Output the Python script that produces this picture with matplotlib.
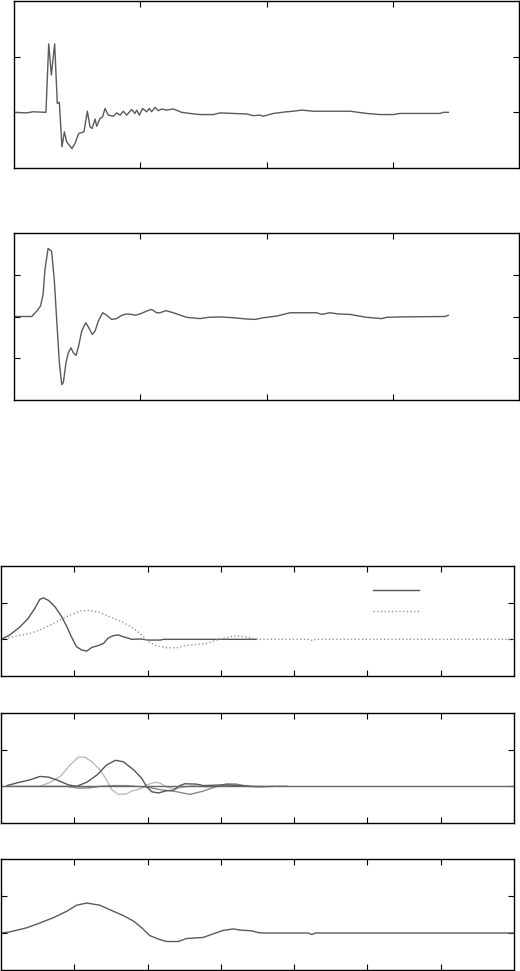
import matplotlib
matplotlib.use("Agg")
import matplotlib.pyplot as plt

# --- panel 1: raw response (x in 0..4) ---
p1_x = [0, 0.10, 0.15, 0.253, 0.275, 0.296, 0.322, 0.343, 0.359, 0.380, 0.399, 0.417,
        0.459, 0.483, 0.512, 0.554, 0.581, 0.602, 0.618, 0.642, 0.655, 0.681, 0.702,
        0.721, 0.747, 0.787, 0.813, 0.840, 0.866, 0.892, 0.932, 0.958, 0.972, 0.993,
        1.019, 1.051, 1.072, 1.090, 1.117, 1.143, 1.170, 1.209, 1.262, 1.328, 1.394,
        1.473, 1.579, 1.632, 1.737, 1.843, 1.896, 1.949, 1.975, 2.054, 2.160, 2.213,
        2.279, 2.371, 2.661, 2.793, 2.899, 3.005, 3.057, 3.374, 3.401, 3.440]
p1_y = [0, -0.01, 0.01, 0, 1.23, 0.67, 1.23, 0.16, 0.18, -0.62, -0.35, -0.53,
        -0.65, -0.56, -0.38, -0.35, 0.02, -0.26, -0.29, -0.12, -0.25, -0.11, -0.08,
        0.07, -0.05, -0.07, -0.01, -0.05, 0.02, -0.05, 0.05, -0.02, 0.04, -0.05,
        0.07, 0.01, 0.07, 0.01, 0.09, 0.03, 0.06, 0.04, 0.06, 0.00, -0.02,
        -0.04, -0.04, -0.01, -0.02, -0.03, -0.06, -0.05, -0.07, -0.02, 0.01, 0.02,
        0.04, 0.02, 0.02, -0.02, -0.04, -0.04, -0.02, -0.02, 0, 0]

# --- panel 2: smoothed response (x in 0..4) ---
p2_x = [0, 0.14, 0.18, 0.21, 0.23, 0.245, 0.27, 0.298, 0.319, 0.338, 0.359, 0.378,
        0.391, 0.412, 0.430, 0.451, 0.470, 0.491, 0.512, 0.536, 0.568, 0.589, 0.620,
        0.642, 0.668, 0.702, 0.734, 0.774, 0.813, 0.853, 0.892, 0.932, 0.958, 0.998,
        1.051, 1.090, 1.130, 1.156, 1.204, 1.262, 1.328, 1.368, 1.473, 1.539, 1.632,
        1.737, 1.843, 1.909, 1.975, 2.081, 2.186, 2.398, 2.437, 2.503, 2.569, 2.661,
        2.793, 2.912, 2.952, 3.057, 3.414, 3.440]
p2_y = [0, 0, 0.13, 0.25, 0.52, 1.12, 1.63, 1.56, 0.88, -0.07, -1.10, -1.63,
        -1.58, -1.10, -0.87, -0.75, -0.87, -0.93, -0.71, -0.35, -0.15, -0.25, -0.43,
        -0.35, -0.11, 0.09, 0.03, -0.07, -0.05, 0.03, 0.06, 0.05, 0.03, 0.06,
        0.13, 0.17, 0.09, 0.09, 0.14, 0.09, 0.02, -0.02, -0.05, -0.02, -0.01,
        -0.03, -0.06, -0.07, -0.03, 0.01, 0.09, 0.09, 0.05, 0.09, 0.06, 0.05,
        -0.02, -0.05, -0.02, -0.01, 0, 0.03]

# --- panel 3: two components (x in 0..7) ---
p3a_x = [0, 0.12, 0.26, 0.37, 0.46, 0.53, 0.58, 0.65, 0.74, 0.83, 0.90, 0.96, 1.03,
         1.10, 1.17, 1.24, 1.33, 1.40, 1.46, 1.53, 1.60, 1.67, 1.74, 1.78, 1.90,
         2.01, 2.17, 2.22, 3.49]
p3a_y = [0, 0.12, 0.34, 0.57, 0.84, 1.09, 1.13, 1.06, 0.88, 0.61, 0.34, 0.07, -0.20,
         -0.29, -0.32, -0.22, -0.17, -0.11, 0.03, 0.10, 0.12, 0.07, 0.03, 0, 0.01,
         -0.02, -0.02, 0, 0]
p3b_x = [0, 0.21, 0.40, 0.58, 0.76, 0.94, 1.08, 1.21, 1.35, 1.49, 1.67, 1.81, 1.92,
         2.01, 2.12, 2.26, 2.40, 2.51, 2.67, 2.81, 2.94, 3.08, 3.17, 3.26, 3.38,
         3.49, 4.22, 4.25, 4.29, 7.0]
p3b_y = [0, 0.09, 0.16, 0.30, 0.48, 0.66, 0.77, 0.79, 0.73, 0.61, 0.46, 0.30, 0.12,
         -0.06, -0.18, -0.23, -0.23, -0.17, -0.14, -0.11, -0.02, 0.05, 0.09, 0.09, 0.05,
         0, 0, -0.04, 0, 0]

# --- panel 4: three components plus baseline (x in 0..7) ---
p4a_x = [0.08, 0.21, 0.40, 0.53, 0.65, 0.78, 0.92, 1.03, 1.17, 1.31, 1.44, 1.56, 1.67,
         1.81, 1.92, 1.99, 2.06, 2.15, 2.26, 2.35, 2.44, 2.51, 2.67, 2.76, 2.90,
         3.08, 3.26, 3.40]
p4a_y = [0.02, 0.09, 0.18, 0.27, 0.25, 0.16, 0.04, 0, 0.11, 0.31, 0.58, 0.71, 0.67,
         0.45, 0.22, -0.02, -0.15, -0.18, -0.12, -0.11, 0.02, 0.07, 0.06, 0.02, 0.03,
         0.04, 0.02, 0]
p4b_x = [0.53, 0.67, 0.81, 0.94, 1.06, 1.15, 1.24, 1.35, 1.44, 1.51, 1.60, 1.71, 1.78,
         1.90, 1.99, 2.10, 2.17, 2.26, 2.37, 2.49, 2.63, 2.81, 2.99, 3.17, 3.35,
         3.63, 3.90]
p4b_y = [0, 0.11, 0.27, 0.58, 0.80, 0.79, 0.67, 0.45, 0.18, -0.09, -0.22, -0.21, -0.13,
         -0.07, 0.04, 0.11, 0.09, -0.02, -0.07, -0.02, 0.02, -0.02, 0.02, 0.04, 0.02,
         0, 0.02]
p4c_x = [0.08, 0.53, 0.90, 1.06, 1.21, 1.35, 1.53, 1.71, 1.99, 2.17, 2.35, 2.58, 2.76,
         2.92, 3.08, 3.22, 3.35, 3.53, 3.72]
p4c_y = [0, 0, 0, -0.05, -0.04, 0, 0.02, 0.02, -0.02, -0.09, -0.13, -0.22, -0.13,
         -0.02, 0.07, 0.06, 0, -0.02, 0]

# --- panel 5: single component (x in 0..7) ---
p5_x = [0, 0.12, 0.35, 0.53, 0.71, 0.90, 1.03, 1.17, 1.35, 1.53, 1.67, 1.81, 1.92,
        2.03, 2.17, 2.26, 2.42, 2.53, 2.76, 2.90, 3.03, 3.17, 3.26, 3.42, 3.51,
        3.58, 4.19, 4.24, 4.29, 7.0]
p5_y = [0, 0.03, 0.14, 0.27, 0.41, 0.59, 0.75, 0.81, 0.75, 0.59, 0.47, 0.32, 0.14,
        -0.07, -0.18, -0.23, -0.23, -0.15, -0.12, -0.02, 0.07, 0.11, 0.08, 0.06, 0.01,
        0, 0, -0.04, 0, 0]

W, H = 520, 971
fig = plt.figure(figsize=(W / 100, H / 100), dpi=100)


def make_axes(left, top, right, bottom, xlim, ylim, xticks, yticks):
    ax = fig.add_axes([left / W, 1 - bottom / H, (right - left) / W, (bottom - top) / H])
    ax.set_xlim(*xlim)
    ax.set_ylim(*ylim)
    ax.set_xticks(xticks)
    ax.set_yticks(yticks)
    ax.tick_params(direction="in", length=4.5, width=0.8, top=True, right=True,
                   labelleft=False, labelbottom=False)
    for s in ax.spines.values():
        s.set_linewidth(1.0)
    return ax


ax1 = make_axes(14, 1, 519, 168, (0, 4), (-1, 2), [1, 2, 3], [0, 1])
ax1.plot(p1_x, p1_y, color="#5a5a5a", lw=1.0)

ax2 = make_axes(14, 233, 519, 400, (0, 4), (-2, 2), [1, 2, 3], [-1, 0, 1])
ax2.plot(p2_x, p2_y, color="#5a5a5a", lw=1.0)

ax3 = make_axes(1, 566, 514, 676, (0, 7), (-1, 2), [1, 2, 3, 4, 5, 6], [0, 1])
l1, = ax3.plot(p3a_x, p3a_y, color="#555555", lw=1.0)
l2, = ax3.plot(p3b_x, p3b_y, color="#999999", lw=1.0, ls=":")
ax3.legend([l1, l2], [" ", " "], loc="center left", bbox_to_anchor=(0.725, 0.68),
           frameon=False, handlelength=3.3, handletextpad=0, borderpad=0,
           borderaxespad=0, labelspacing=0.55)

ax4 = make_axes(1, 713, 514, 823, (0, 7), (-1, 2), [1, 2, 3, 4, 5, 6], [0, 1])
ax4.plot(p4b_x, p4b_y, color="#bbbbbb", lw=1.0)
ax4.plot(p4c_x, p4c_y, color="#888888", lw=1.0)
ax4.plot(p4a_x, p4a_y, color="#555555", lw=1.0)
ax4.axhline(0, color="#666666", lw=1.0)

ax5 = make_axes(1, 859, 514, 970, (0, 7), (-1, 2), [1, 2, 3, 4, 5, 6], [0, 1])
ax5.plot(p5_x, p5_y, color="#5a5a5a", lw=1.0)

fig.savefig("out.png", dpi=100)
